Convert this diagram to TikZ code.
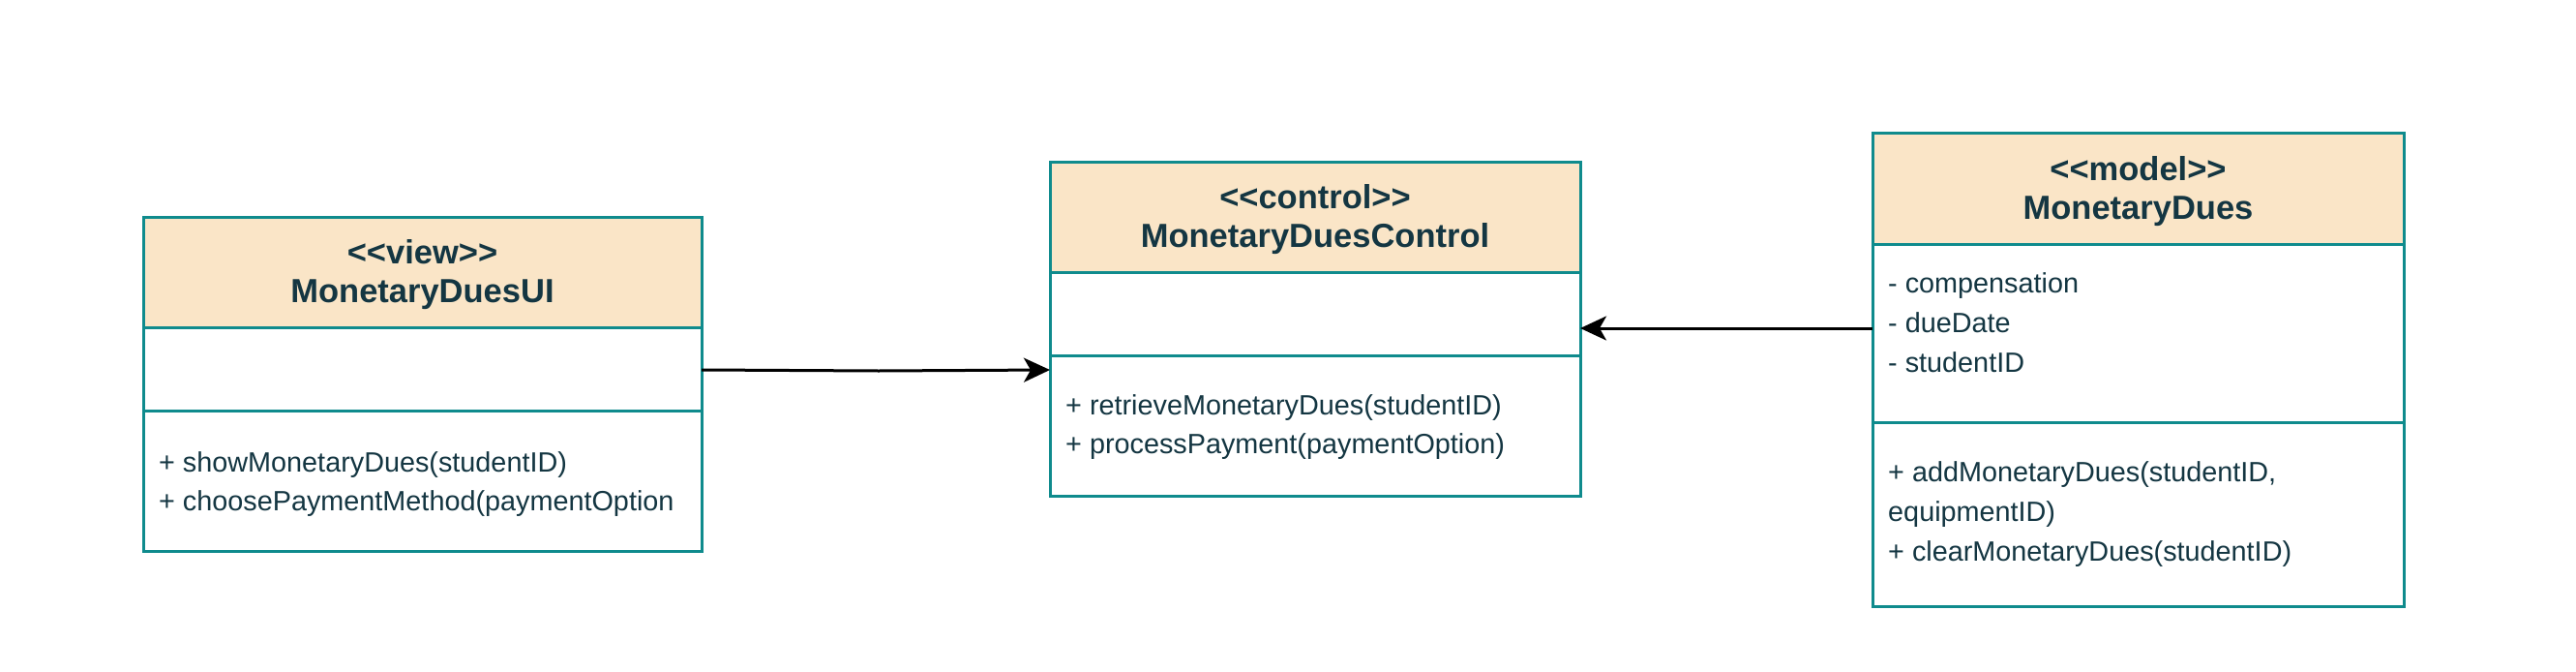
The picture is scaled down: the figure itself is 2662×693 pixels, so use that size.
\documentclass[tikz,border=0pt]{standalone}
\usepackage{fontspec}
\setmainfont{Liberation Sans}[Ligatures=TeXOff]
\usetikzlibrary{arrows.meta}
\definecolor{stroketeal}{HTML}{0F8B8D}
\definecolor{headfill}{HTML}{FAE5C7}
\definecolor{inkcol}{HTML}{143642}
\tikzset{
  classbox/.style={draw=stroketeal, line width=3pt, fill=white, rectangle, inner sep=0pt, outer sep=0pt, anchor=north west},
  headbox/.style={draw=stroketeal, line width=3pt, fill=headfill, rectangle, inner sep=0pt, outer sep=0pt, anchor=north west},
  divider/.style={draw=stroketeal, line width=3pt},
  headtext/.style={font=\bfseries\fontsize{34.5}{40}\selectfont, text=inkcol, anchor=base, inner sep=0pt},
  member/.style={font=\fontsize{28.8}{35}\selectfont, text=inkcol, anchor=base west, inner sep=0pt},
  link/.style={draw=black, line width=3pt, -{Stealth[length=27pt, width=25pt, inset=7pt]}}
}
\begin{document}
\begin{tikzpicture}[x=1pt,y=-1pt]
\useasboundingbox (0,0) rectangle (2662,693);
\fill[white] (0,0) rectangle (2662,693);

% ---- MonetaryDuesUI ----
\node[classbox, minimum width=577pt, minimum height=345pt] (ui) at (148,224) {};
\node[headbox, minimum width=577pt, minimum height=114pt] (uihead) at (148,224) {};
\draw[divider] (148,424) -- (725,424);
\node[headtext] (uistereo) at (436.5,272) {<\kern0pt<view>\kern0pt>};
\node[headtext] (uiname) at (436.5,312) {MonetaryDuesUI};
\node[member] (uim1) at (164,487) {+ showMonetaryDues(studentID)};
\node[member] (uim2) at (164,527) {+ choosePaymentMethod(paymentOption};

% ---- MonetaryDuesControl ----
\node[classbox, minimum width=548pt, minimum height=345pt] (ctrl) at (1085,167) {};
\node[headbox, minimum width=548pt, minimum height=114pt] (ctrlhead) at (1085,167) {};
\draw[divider] (1085,367) -- (1633,367);
\node[headtext] (ctrlstereo) at (1359,215) {<\kern0pt<control>\kern0pt>};
\node[headtext] (ctrlname) at (1359,255) {MonetaryDuesControl};
\node[member] (ctrlm1) at (1101,428) {+ retrieveMonetaryDues(studentID)};
\node[member] (ctrlm2) at (1101,468) {+ processPayment(paymentOption)};

% ---- MonetaryDues ----
\node[classbox, minimum width=549pt, minimum height=489pt] (model) at (1935,137) {};
\node[headbox, minimum width=549pt, minimum height=115pt] (modelhead) at (1935,137) {};
\draw[divider] (1935,436) -- (2484,436);
\node[headtext] (modelstereo) at (2209.5,186) {<\kern0pt<model>\kern0pt>};
\node[headtext] (modelname) at (2209.5,226) {MonetaryDues};
\node[member] (modela1) at (1951,302) {- compensation};
\node[member] (modela2) at (1951,343) {- dueDate};
\node[member] (modela3) at (1951,384) {- studentID};
\node[member] (modelm1) at (1951,497) {+ addMonetaryDues(studentID,};
\node[member] (modelm2) at (1951,538) {equipmentID)};
\node[member] (modelm3) at (1951,579) {+ clearMonetaryDues(studentID)};

% ---- connectors ----
\coordinate (uiout) at (ui.east |- 0,382);
\coordinate (bend) at (908,383);
\coordinate (ctrlin) at (ctrl.west |- 0,382);
\draw[link] (uiout) -- (bend) -- (ctrlin);

\coordinate (modelout) at (model.west |- 0,339);
\coordinate (ctrlin2) at (ctrl.east |- 0,339);
\draw[link] (modelout) -- (ctrlin2);
\end{tikzpicture}
\end{document}
